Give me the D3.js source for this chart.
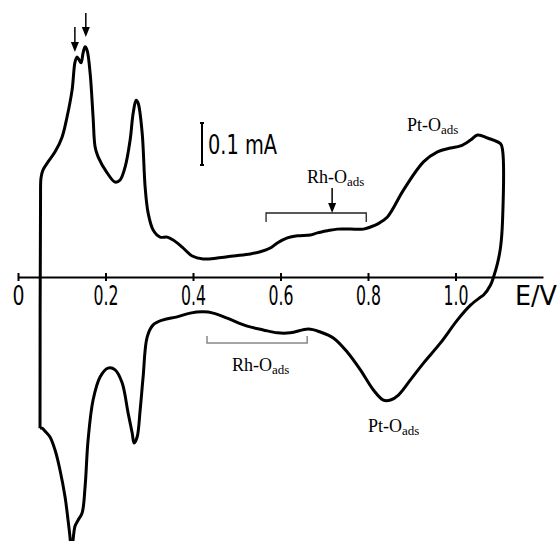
<html>
<head>
  <script src="https://d3js.org/d3.v7.min.js"></script>
  <style>
    body { margin: 0; background: #fff; }
    .tick-lbl { font-family: "DejaVu Sans Condensed", "Liberation Sans Narrow", sans-serif; }
    .serif { font-family: "Liberation Serif", "Times New Roman", serif; }
  </style>
</head>
<body>
  <div id="chart"></div>
  <script>

    // Anodic sweep (E in V, I in mA), starting at the 0.05 V reversal
    var anodicE = [0.0503, 0.0515, 0.0526, 0.0572, 0.0686, 0.0847, 0.1007, 0.1121, 0.1236, 0.1304,
      0.1350, 0.1396, 0.1442, 0.1487, 0.1533, 0.1579, 0.1648, 0.1716, 0.1762, 0.1831,
      0.2037, 0.2220, 0.2334, 0.2449, 0.2563, 0.2632, 0.2700, 0.2746, 0.2838, 0.2906,
      0.2975, 0.3089, 0.3249, 0.3410, 0.3547, 0.3753, 0.3982, 0.4233, 0.4554, 0.4920,
      0.5309, 0.5538, 0.5767, 0.5927, 0.6156, 0.6384, 0.6682, 0.6842, 0.7071, 0.7300,
      0.7597, 0.7895, 0.8055, 0.8215, 0.8444, 0.8810, 0.9268, 0.9588, 0.9886, 1.0114,
      1.0343, 1.0503, 1.0732, 1.1030, 1.1076, 1.1076, 1.1030, 1.0961, 1.0870, 1.0801, 1.0641];
    var anodicI = [-0.360, 0.183, 0.236, 0.255, 0.274, 0.298, 0.333, 0.381, 0.445, 0.512,
      0.524, 0.517, 0.510, 0.533, 0.548, 0.540, 0.486, 0.381, 0.310, 0.286,
      0.248, 0.226, 0.231, 0.262, 0.326, 0.390, 0.421, 0.414, 0.343, 0.214,
      0.152, 0.112, 0.095, 0.095, 0.088, 0.071, 0.050, 0.043, 0.045, 0.050,
      0.055, 0.060, 0.069, 0.081, 0.093, 0.098, 0.100, 0.105, 0.110, 0.114,
      0.114, 0.114, 0.119, 0.126, 0.143, 0.207, 0.274, 0.298, 0.307, 0.312,
      0.326, 0.338, 0.331, 0.317, 0.302, 0.136, 0.071, 0.033, 0.000, -0.019, -0.043];

    // Cathodic sweep, back down to 0.05 V
    var cathodicE = [1.0572, 1.0343, 1.0046, 0.9657, 0.9268, 0.8970, 0.8696, 0.8513, 0.8352, 0.8124,
      0.7826, 0.7529, 0.7208, 0.6911, 0.6636, 0.6224, 0.5927, 0.5606, 0.5240, 0.4783,
      0.4462, 0.4233, 0.3936, 0.3638, 0.3318, 0.3089, 0.2952, 0.2860, 0.2792, 0.2723,
      0.2654, 0.2609, 0.2517, 0.2380, 0.2220, 0.2059, 0.1876, 0.1716, 0.1602, 0.1533,
      0.1465, 0.1373, 0.1304, 0.1259, 0.1224, 0.1190, 0.1144, 0.1076, 0.0961, 0.0847,
      0.0732, 0.0618, 0.0549, 0.0503];
    var cathodicI = [-0.048, -0.067, -0.102, -0.157, -0.205, -0.245, -0.281, -0.293, -0.293, -0.269,
      -0.221, -0.179, -0.145, -0.131, -0.124, -0.133, -0.133, -0.126, -0.117, -0.098,
      -0.086, -0.083, -0.086, -0.095, -0.102, -0.114, -0.143, -0.238, -0.317, -0.381,
      -0.395, -0.371, -0.324, -0.252, -0.221, -0.217, -0.238, -0.293, -0.388, -0.500,
      -0.562, -0.579, -0.593, -0.626, -0.662, -0.621, -0.579, -0.524, -0.460, -0.412,
      -0.381, -0.367, -0.360, -0.360];

    var tickValues = [0, 0.2, 0.4, 0.6, 0.8, 1.0];
    var tickLabels = ["0", "0.2", "0.4", "0.6", "0.8", "1.0"];

    var width = 558, height = 541;

    var x = d3.scaleLinear().domain([0, 1.2]).range([18, 543]);
    var y = d3.scaleLinear().domain([-0.7, 0.6]).range([571, 25]);

    var svg = d3.select("#chart").append("svg")
      .attr("width", width)
      .attr("height", height)
      .style("display", "block");

    // x axis through I = 0, ticks cross the line
    var axis = svg.append("g")
      .attr("transform", `translate(0,${y(0)})`)
      .call(d3.axisBottom(x).tickValues(tickValues).tickSizeOuter(0)
        .tickFormat((d, i) => tickLabels[i]));
    axis.select(".domain").attr("stroke", "#000").attr("stroke-width", 2);
    axis.selectAll(".tick line").attr("y1", -4).attr("y2", 4).attr("stroke-width", 2);
    axis.selectAll(".tick text")
      .attr("class", "tick-lbl")
      .attr("y", 28).attr("dy", null)
      .attr("fill", "#000")
      .attr("textLength", (d, i) => tickLabels[i].length > 1 ? 25 : 12)
      .attr("lengthAdjust", "spacingAndGlyphs")
      .style("font-size", "27px");

    svg.append("text").attr("class", "tick-lbl")
      .attr("x", 515).attr("y", y(0) + 28)
      .attr("textLength", 42).attr("lengthAdjust", "spacingAndGlyphs")
      .style("font-size", "27px")
      .text("E/V");

    // voltammogram loop
    var pts = anodicE.map((e, i) => [e, anodicI[i]])
      .concat(cathodicE.map((e, i) => [e, cathodicI[i]]));
    var line = d3.line()
      .x(d => x(d[0])).y(d => y(d[1]))
      .curve(d3.curveCatmullRom.alpha(0.5));
    svg.append("path")
      .attr("d", line(pts))
      .attr("fill", "none")
      .attr("stroke", "#000")
      .attr("stroke-width", 3)
      .attr("stroke-linejoin", "round");

    // 0.1 mA scale bar
    var barX = 202, barTop = 123, barLen = y(0) - y(0.1);
    svg.append("path")
      .attr("d", `M${barX - 2},${barTop}H${barX + 2}M${barX},${barTop}V${barTop + barLen}M${barX - 2},${barTop + barLen}H${barX + 2}`)
      .attr("stroke", "#000").attr("stroke-width", 2).attr("fill", "none");
    svg.append("text").attr("class", "tick-lbl")
      .attr("x", 208).attr("y", 154)
      .attr("textLength", 69).attr("lengthAdjust", "spacingAndGlyphs")
      .style("font-size", "26px")
      .text("0.1 mA");

    // arrows
    function arrow(xp, y0, y1) {
      svg.append("line").attr("x1", xp).attr("x2", xp).attr("y1", y0).attr("y2", y1 - 8)
        .attr("stroke", "#000").attr("stroke-width", 1.5);
      svg.append("path").attr("d", `M${xp - 4},${y1 - 10}L${xp + 4},${y1 - 10}L${xp},${y1}Z`)
        .attr("fill", "#000");
    }
    arrow(x(0.13), 27, 52);
    arrow(x(0.155), 13, 37);
    arrow(x(0.718), 188, 213);

    // brackets
    svg.append("path")
      .attr("d", `M${x(0.567)},222V213H${x(0.796)}V222`)
      .attr("fill", "none").attr("stroke", "#222").attr("stroke-width", 1.3);
    svg.append("path")
      .attr("d", `M${x(0.432)},336V343H${x(0.661)}V336`)
      .attr("fill", "none").attr("stroke", "#888").attr("stroke-width", 1.5);

    // labels with subscript
    function label(xp, yp, main) {
      var t = svg.append("text").attr("class", "serif")
        .attr("x", xp).attr("y", yp)
        .style("font-size", "18px").attr("fill", "#000");
      t.append("tspan").text(main);
      t.append("tspan").attr("dy", 3).style("font-size", "13px").text("ads");
    }
    label(407, 131, "Pt-O");
    label(307, 183, "Rh-O");
    label(232, 371, "Rh-O");
    label(368, 432, "Pt-O");

  </script>
</body>
</html>
